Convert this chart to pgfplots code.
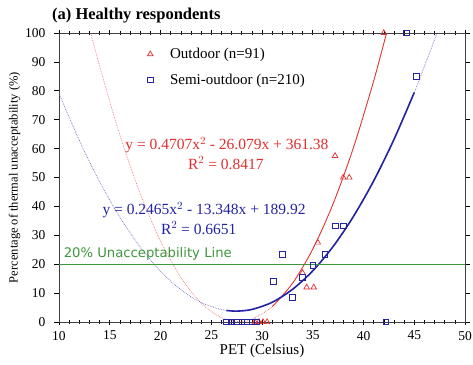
\documentclass[border=0pt]{standalone}
\usepackage{pgfplots}
\pgfplotsset{compat=1.18}
\usepackage{fontspec}
\setmainfont{Liberation Serif}
\newfontfamily\sansf{DejaVu Sans}
\definecolor{rr}{RGB}{228,45,45}
\definecolor{rl}{RGB}{240,120,120}
\definecolor{bb}{RGB}{35,35,165}
\definecolor{bl}{RGB}{110,110,200}
\definecolor{gg}{RGB}{60,150,60}
\begin{document}
\begin{tikzpicture}
\begin{axis}[
  at={(0pt,0pt)}, anchor=south west,
  scale only axis, width=406pt, height=289pt,
  xmin=10, xmax=50, ymin=0, ymax=100,
  xtick={10,15,...,50}, ytick={0,10,...,100},
  minor x tick num=4,
  xtick align=center, ytick align=outside,
  major tick length=5pt, minor tick length=4pt,
  tick style={black, line width=0.6pt},
  axis line style={black!75, line width=0.8pt},
  /pgf/number format/assume math mode=true,
  ticklabel style={font=\fontsize{13.5}{13.5}\selectfont},
  yticklabel style={xshift=-5pt},
  xticklabel style={yshift=-3pt},
  xlabel={PET (Celsius)},
  xlabel style={font=\fontsize{15}{15}\selectfont, yshift=3pt},
  ylabel={Percentage of thermal unacceptability (\%)},
  ylabel style={font=\fontsize{12.5}{12.5}\selectfont, yshift=-2pt},
  clip=false,
  legend style={at={(axis cs:18.4,96.2)}, anchor=north west, draw=none, fill=none,
    font=\fontsize{15}{15}\selectfont, row sep=10pt, cells={anchor=west}},
  legend cell align=left,
]
% Outdoor data
\addplot[only marks, mark=triangle, mark size=3.2pt, rr, mark options={line width=0.7pt}] coordinates {
  (42,100) (37.2,57.5) (38,50) (38.6,50) (35.5,27.5) (34,17) (34.4,12) (35.1,12)
  (29.3,0) (29.7,0) (30.1,0) (30.5,0)
};
\addlegendentry{\hspace{15pt}Outdoor (n=91)}
% Semi-outdoor data
\addplot[only marks, mark=square, mark size=2.8pt, bb, mark options={line width=0.7pt}] coordinates {
  (44.2,100) (45.2,85) (37.2,33.3) (38,33.3) (36.2,23.5) (35,19.5) (34,15.5)
  (33,8.5) (32,23.5) (31.1,14) (42.2,0)
  (26.5,0) (27,0) (27.5,0) (28,0) (28.5,0) (29,0) (29.5,0)
};
\addlegendentry{\hspace{15pt}Semi-outdoor (n=210)}
% Red fitted curve (thin dotted, full range)
\addplot[rl, densely dotted, line width=0.7pt, smooth, forget plot] coordinates {
  (13.15,99.8) (14,88.53) (16,64.62) (18,44.47) (20,28.08) (22,15.46) (24,6.60)
  (26,1.52) (27.7,0.15) (29,0.96) (31,5.29) (33,13.37) (35,25.22) (37,40.85)
  (39,60.24) (41,83.39) (42.25,99.77)
};
% Red fitted curve (solid part)
\addplot[rr, line width=0.8pt, smooth, forget plot] coordinates {
  (31,5.29) (33,13.37) (35,25.22) (37,40.85) (39,60.24) (41,83.39) (42.25,99.77)
};
% Blue fitted curve (thin dotted, full range)
\addplot[bl, densely dotted, line width=0.7pt, smooth, forget plot] coordinates {
  (10,79.09) (12,62.84) (14,48.56) (16,36.25) (18,25.93) (20,17.56) (22,11.17)
  (24,6.75) (26,4.31) (27.5,3.77) (29,4.34) (31,6.82) (33,11.28) (35,17.70)
  (37,26.10) (39,36.48) (41,48.82) (43,63.15) (45,79.42) (47.2,99.61)
};
% Blue fitted curve (thick part)
\addplot[bb, line width=1.6pt, smooth, forget plot] coordinates {
  (26.5,4.0) (27.5,3.77) (29,4.34) (31,6.82) (33,11.28) (35,17.70)
  (37,26.10) (39,36.48) (41,48.82) (43,63.15) (45,79.42)
};
% 20% line
\addplot[gg, line width=0.8pt, forget plot] coordinates {(10,20) (50,20)};
\node[anchor=south west, gg, font=\sansf\fontsize{13.2}{13.2}\selectfont, inner sep=1pt] at (axis cs:10.35,20.9) {20\% Unacceptability Line};
% equations
\node[rr, font=\fontsize{15.5}{15.5}\selectfont] at (axis cs:26.55,61.2) {y = 0.4707x$^2$ - 26.079x + 361.38};
\node[rr, font=\fontsize{15.5}{15.5}\selectfont, anchor=east] at (axis cs:30.5,55) {R$^2$ = 0.8417};
\node[bb, font=\fontsize{15.5}{15.5}\selectfont] at (axis cs:24.29,38.75) {y = 0.2465x$^2$ - 13.348x + 189.92};
\node[bb, font=\fontsize{15.5}{15.5}\selectfont, anchor=east] at (axis cs:27.83,32.5) {R$^2$ = 0.6651};
% title
\node[anchor=west, font=\bfseries\fontsize{16.5}{16.5}\selectfont, inner sep=0pt] at (axis cs:9.31,106.2) {(a) Healthy respondents};
\end{axis}
\pgfresetboundingbox
\path[use as bounding box] (-59pt,-42pt) rectangle (414pt,322pt);
\end{tikzpicture}
\end{document}
